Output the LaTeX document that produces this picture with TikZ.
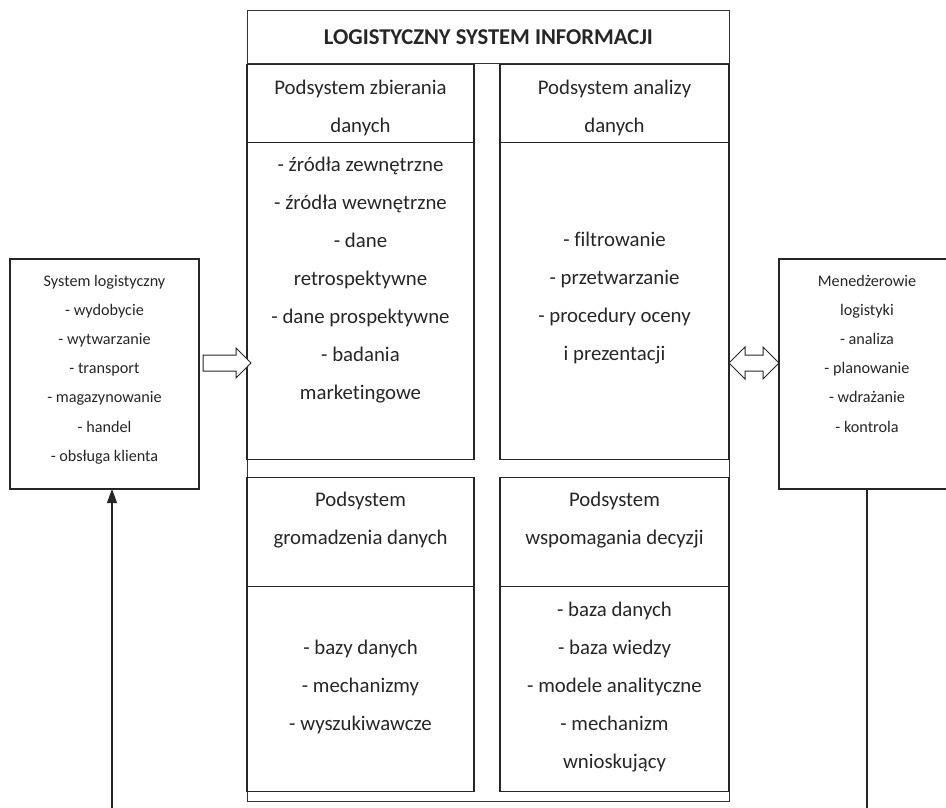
\documentclass[tikz,border=0pt]{standalone}
\usepackage{fontspec}
\setmainfont{Carlito}[Ligatures=NoCommon]
\usetikzlibrary{positioning, arrows.meta, shapes.arrows}

\tikzset{
  panel/.style = {draw=black!85, line width=1.1pt, inner sep=0pt, outer sep=0pt},
  paneltext/.style = {align=center, text=black!85, inner sep=0pt, font=\fontsize{20.8}{38}\selectfont},
  sidebox/.style = {draw=black!85, line width=1.1pt, inner sep=0pt, outer sep=0pt, minimum height=230pt},
  sidetext/.style = {align=center, text=black!85, inner sep=0pt, font=\fontsize{16.2}{29.2}\selectfont},
  hollow/.style = {draw=black!85, line width=1pt, fill=white, inner sep=7.5pt, outer sep=0pt}
}

\begin{document}
\begin{tikzpicture}[x=1pt, y=-1pt, node distance=0pt]
  \clip (0,0) rectangle (946,808);

  % main frame with the title row
  \node[draw=black!80, line width=0.9pt, inner sep=0pt, minimum width=482pt, minimum height=791pt, anchor=north west] (frame) at (247,10) {};
  \node[draw=black!80, line width=0.9pt, inner sep=0pt, minimum width=482pt, minimum height=53pt, anchor=north west,
        text=black!85, font=\bfseries\fontsize{22.6}{26}\selectfont] (title) at (frame.north west) {LOGISTYCZNY SYSTEM INFORMACJI};

  % subsystems
  \node[panel, minimum width=227pt, minimum height=78pt, below=1pt of title.south west, anchor=north west] (zbhead) {};
  \node[panel, minimum width=227pt, minimum height=317pt, below=of zbhead] (zbbody) {};
  \node[panel, minimum width=229pt, minimum height=78pt, right=26pt of zbhead] (anhead) {};
  \node[panel, minimum width=229pt, minimum height=317pt, below=of anhead] (anbody) {};
  \node[panel, minimum width=227pt, minimum height=109pt, below=18pt of zbbody] (grhead) {};
  \node[panel, minimum width=227pt, minimum height=205pt, below=of grhead] (grbody) {};
  \node[panel, minimum width=229pt, minimum height=109pt, right=26pt of grhead] (wsphead) {};
  \node[panel, minimum width=229pt, minimum height=205pt, below=of wsphead] (wspbody) {};

  \node[paneltext] (zbheadtxt) at ([yshift=-4pt]zbhead.center) {Podsystem zbierania\\danych};
  \node[paneltext] (anheadtxt) at ([yshift=-4pt]anhead.center) {Podsystem analizy\\danych};
  \node[paneltext] (zbbodytxt) at ([yshift=21.5pt]zbbody.center) {- źródła zewnętrzne\\- źródła wewnętrzne\\- dane\\retrospektywne\\- dane prospektywne\\- badania\\marketingowe};
  \node[paneltext] (anbodytxt) at ([yshift=3pt]anbody.center) {- filtrowanie\\- przetwarzanie\\- procedury oceny\\i prezentacji};
  \node[paneltext] (grheadtxt) at ([yshift=12.5pt]grhead.center) {Podsystem\\gromadzenia danych};
  \node[paneltext] (wspheadtxt) at ([yshift=12.5pt]wsphead.center) {Podsystem\\wspomagania decyzji};
  \node[paneltext] (grbodytxt) at ([yshift=2.5pt]grbody.center) {- bazy danych\\- mechanizmy\\- wyszukiwawcze};
  \node[paneltext] (wspbodytxt) at ([yshift=2pt]wspbody.center) {- baza danych\\- baza wiedzy\\- modele analityczne\\- mechanizm\\wnioskujący};

  % outer boxes
  \node[sidebox, minimum width=189pt] (logsys) at (104.5,374) {};
  \node[sidetext] (logsystxt) at ([yshift=4.5pt]logsys.center) {System logistyczny\\- wydobycie\\- wytwarzanie\\- transport\\- magazynowanie\\- handel\\- obsługa klienta};
  \node[sidebox, minimum width=176pt] (menedzer) at (867,374) {};
  \node[sidetext] (menedzertxt) at ([yshift=20.5pt]menedzer.center) {Menedżerowie\\logistyki\\- analiza\\- planowanie\\- wdrażanie\\- kontrola};

  % hollow arrows
  \node[hollow, single arrow, single arrow head extend=7pt, minimum height=48pt] (inflow) at (223,363) {};
  \node[hollow, double arrow, double arrow head extend=8pt, minimum height=50pt] (exchange) at (754,363) {};

  % feedback lines
  \coordinate (fbL) at (112,808);
  \coordinate (fbR) at (867,808);
  \draw[black!85, line width=1.1pt, -{Triangle[length=14pt, width=10pt]}] (fbL) -- (fbL |- logsys.south);
  \draw[black!85, line width=1.1pt] (menedzer.south) -- (fbR);
\end{tikzpicture}
\end{document}
